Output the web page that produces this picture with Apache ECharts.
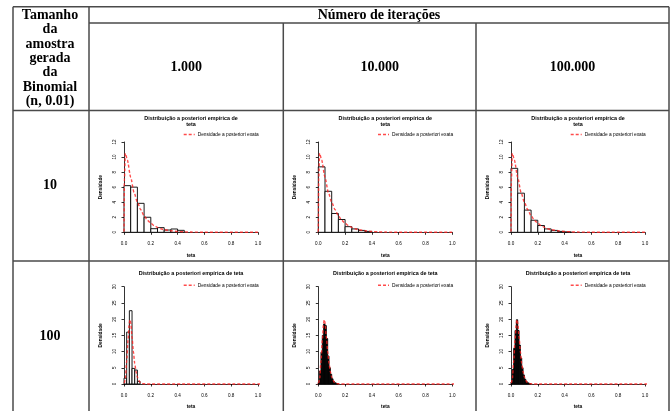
<!DOCTYPE html>
<html><head><meta charset="utf-8">
<script src="https://cdn.jsdelivr.net/npm/echarts@6/dist/echarts.min.js"></script>
<style>html,body{margin:0;padding:0;background:#fff}#c{width:672px;height:411px}</style>
</head><body><div id="c"></div>
<script>
// ---- table text ----
const headerTop = 'Número de iterações';
const iterLabels = ['1.000', '10.000', '100.000'];
const sampleLabels = ['10', '100'];
const rowHeaderLines = ['Tamanho', 'da', 'amostra', 'gerada', 'da', 'Binomial', '(n, 0.01)'];
const plotTitleRow1 = 'Distribuição a posteriori empírica de\nteta';
const plotTitleRow2 = 'Distribuição a posteriori empírica de teta';
const legendName = 'Densidade a posteriori exata';
const xName = 'teta';
const yName = 'Densidade';
const xTicks = [0, 0.2, 0.4, 0.6, 0.8, 1.0];
const yTicksRow1 = [0, 2, 4, 6, 8, 10, 12];
const yTicksRow2 = [0, 5, 10, 15, 20, 25, 30];

// ---- histogram bins (left edges) ----
const binStarts05 = [0, 0.05, 0.1, 0.15, 0.2, 0.25, 0.3, 0.35, 0.4, 0.45];
const binStarts02 = [0, 0.02, 0.04, 0.06, 0.08, 0.1];
const binStarts01 = [0, 0.01, 0.02, 0.03, 0.04, 0.05, 0.06, 0.07, 0.08, 0.09, 0.1, 0.11, 0.12, 0.13, 0.14];

// ---- histogram densities ----
const hist_n10_it1000 = [6.2, 6.0, 3.85, 2.0, 0.48, 0.62, 0.3, 0.44, 0.26];
const hist_n10_it10000 = [8.7, 5.45, 2.5, 1.7, 0.75, 0.45, 0.25, 0.12];
const hist_n10_it100000 = [8.5, 5.2, 2.95, 1.6, 0.9, 0.45, 0.25, 0.12, 0.05];
const hist_n100_it1000 = [1.8, 16, 22.6, 4.8, 4.3, 0.8];
const hist_n100_it10000 = [0.5, 4, 9.8, 15, 18.5, 18, 14, 8.6, 5, 3, 1.6, 0.8, 0.4, 0.2, 0.1];
const hist_n100_it100000 = [0.6, 4.5, 11, 16.5, 19.8, 16.5, 12, 8, 5, 2.8, 1.5, 0.8, 0.4, 0.2, 0.1];

// ---- exact posterior density ----
const dens_n10 = [[-0.03,0],[0,0],[0.003,7],[0.01,10.5],[0.025,9.6],[0.05,7.3],[0.075,5.3],[0.1,4.0],[0.125,3.0],[0.15,2.2],[0.175,1.6],[0.2,1.2],[0.225,0.9],[0.25,0.65],[0.275,0.47],[0.3,0.34],[0.35,0.2],[0.4,0.11],[0.45,0.06],[0.5,0.03],[0.6,0.01],[0.7,0],[1.04,0]];
const dens_n100 = [[-0.03,0],[0,0],[0.01,1.5],[0.02,7],[0.03,13.5],[0.04,19],[0.045,19.8],[0.05,19],[0.06,14.5],[0.07,10],[0.08,6.3],[0.09,3.8],[0.1,2.1],[0.11,1.1],[0.12,0.55],[0.13,0.27],[0.14,0.12],[0.16,0.03],[0.2,0],[1.04,0]];

const cells = [
  {col:0, row:0, starts:binStarts05, w:0.05, hist:hist_n10_it1000, dens:dens_n10, fill:'#fff'},
  {col:1, row:0, starts:binStarts05, w:0.05, hist:hist_n10_it10000, dens:dens_n10, fill:'#fff'},
  {col:2, row:0, starts:binStarts05, w:0.05, hist:hist_n10_it100000, dens:dens_n10, fill:'#fff'},
  {col:0, row:1, starts:binStarts02, w:0.02, hist:hist_n100_it1000, dens:dens_n100, fill:'#fff'},
  {col:1, row:1, starts:binStarts01, w:0.01, hist:hist_n100_it10000, dens:dens_n100, fill:'#111'},
  {col:2, row:1, starts:binStarts01, w:0.01, hist:hist_n100_it100000, dens:dens_n100, fill:'#111'}
];

// ---- layout ----
const colLeft = [89, 283.3, 476];
const rowTop = [110.5, 261];
const rowLayout = [
  {gridTop:142, gridH:90.3, titleY:121.2, legendY:135, yMax:12, yInt:2, title:plotTitleRow1},
  {gridTop:286.7, gridH:97.3, titleY:273.3, legendY:285.7, yMax:30, yInt:5, title:plotTitleRow2}
];

const grids = [], xAxes = [], yAxes = [], series = [], legends = [], graphics = [];
const tickFont = {fontSize:4.6, fontFamily:'Liberation Sans', color:'#000'};

cells.forEach((c, i) => {
  const L = colLeft[c.col], R = rowLayout[c.row];
  grids.push({left: L + 35, top: R.gridTop, width: 134, height: R.gridH});
  xAxes.push({
    type:'value', gridIndex:i, min:0, max:1, interval:0.2, offset:5,
    axisLine:{show:true, lineStyle:{color:'#000', width:0.8}},
    axisTick:{show:true, length:2.5, lineStyle:{color:'#000', width:0.8}},
    axisLabel:Object.assign({margin:4, formatter:v => v.toFixed(1)}, tickFont),
    splitLine:{show:false},
    name:xName, nameLocation:'middle', nameGap:15.5,
    nameTextStyle:{fontSize:4.8, fontWeight:'bold', fontFamily:'Liberation Sans', color:'#000'}
  });
  yAxes.push({
    type:'value', gridIndex:i, min:0, max:R.yMax, interval:R.yInt, offset:3,
    axisLine:{show:true, lineStyle:{color:'#000', width:0.8}},
    axisTick:{show:true, length:2.5, lineStyle:{color:'#000', width:0.8}},
    axisLabel:Object.assign({margin:4, rotate:90}, tickFont),
    splitLine:{show:false},
    name:yName, nameLocation:'middle', nameGap:18, nameRotate:90,
    nameTextStyle:{fontSize:4.8, fontWeight:'bold', fontFamily:'Liberation Sans', color:'#000'}
  });
  const histData = c.hist.map((h, k) => [c.starts[k], c.starts[k] + c.w, h]);
  series.push({
    type:'custom', xAxisIndex:i, yAxisIndex:i, data:histData, encode:{x:[0,1], y:2},
    renderItem:(params, api) => {
      const p0 = api.coord([api.value(0), api.value(2)]);
      const p1 = api.coord([api.value(1), 0]);
      return {type:'rect', shape:{x:p0[0], y:p0[1], width:p1[0]-p0[0], height:p1[1]-p0[1]},
        style:{fill:c.fill, stroke:'#000', lineWidth:0.9}};
    },
    silent:true, z:2
  });
  series.push({
    type:'line', name:legendName, xAxisIndex:i, yAxisIndex:i, data:c.dens,
    symbol:'none', showSymbol:false, smooth:0.25, smoothMonotone:'x', clip:false,
    lineStyle:{color:'rgba(255,30,30,0.8)', width:1.4, type:[3,2]},
    itemStyle:{color:'rgba(255,30,30,0.8)'},
    silent:true, z:3
  });
  legends.push({
    data:[legendName], left:L + 94, top:R.legendY - 3, padding:0, itemGap:0,
    itemWidth:11, itemHeight:5, selectedMode:false,
    itemStyle:{color:'rgba(0,0,0,0)', borderWidth:0, opacity:0},
    lineStyle:{color:'rgba(255,30,30,0.8)', width:1.4, type:[3,2]},
    textStyle:{fontSize:4.8, fontFamily:'Liberation Sans', color:'#000', padding:[0,0,0,-2]}
  });
  graphics.push({type:'text', x:L + 102, y:R.titleY, silent:true,
    style:{text:R.title, fontSize:5.4, fontWeight:'bold', fontFamily:'Liberation Sans', fill:'#000',
      lineHeight:6.3, textAlign:'center', align:'center', textVerticalAlign:'middle', verticalAlign:'middle'}});
});

// table lines
const lineStyle = {stroke:'#4a4a4a', lineWidth:1.5};
const hl = (x1, x2, y) => graphics.push({type:'line', silent:true, shape:{x1, y1:y, x2, y2:y}, style:lineStyle});
const vl = (x, y1, y2) => graphics.push({type:'line', silent:true, shape:{x1:x, y1, x2:x, y2}, style:lineStyle});
hl(13, 669, 6.7);
hl(89, 669, 23);
hl(13, 669, rowTop[0]);
hl(13, 669, rowTop[1]);
vl(13, 6.7, 411);
vl(89, 6.7, 411);
vl(colLeft[1], 23, 411);
vl(colLeft[2], 23, 411);
vl(669, 6.7, 411);

const serifBold = t => ({text:t, fontSize:14, fontWeight:'bold', fontFamily:'Liberation Serif', fill:'#000',
  textAlign:'center', align:'center', textVerticalAlign:'middle', verticalAlign:'middle'});
graphics.push({type:'text', x:379, y:15, silent:true, style:serifBold(headerTop)});
rowHeaderLines.forEach((t, k) => graphics.push({type:'text', x:50, y:15 + k * 14.45, silent:true, style:serifBold(t)}));
iterLabels.forEach((t, k) => {
  const x1 = colLeft[k], x2 = k < 2 ? colLeft[k + 1] : 669;
  graphics.push({type:'text', x:(x1 + x2) / 2, y:67, silent:true, style:serifBold(t)});
});
graphics.push({type:'text', x:50, y:185.5, silent:true, style:serifBold(sampleLabels[0])});
graphics.push({type:'text', x:50, y:336, silent:true, style:serifBold(sampleLabels[1])});

const chart = echarts.init(document.getElementById('c'), null, {renderer:'canvas'});
chart.setOption({
  backgroundColor:'#fff', animation:false,
  grid:grids, xAxis:xAxes, yAxis:yAxes, series:series, legend:legends,
  graphic:{elements:graphics}
});
</script></body></html>
